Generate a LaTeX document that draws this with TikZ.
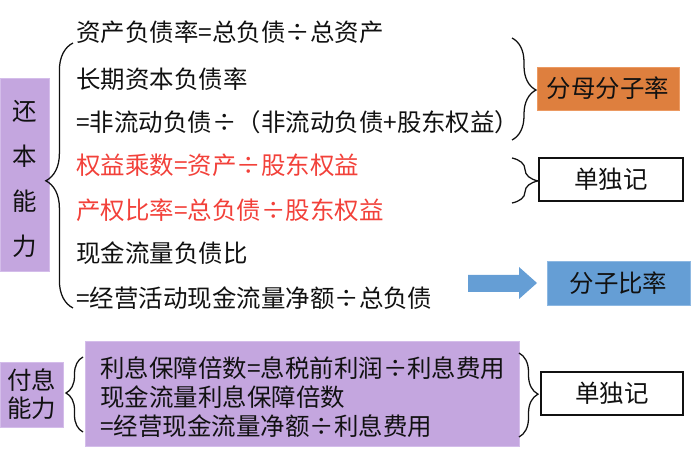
\documentclass[tikz,border=0pt]{standalone}
\usepackage{fontspec}
\setmainfont{Noto Sans CJK SC}
\usetikzlibrary{positioning,decorations.pathreplacing}
\definecolor{hInk}{HTML}{111111}
\definecolor{hRed}{HTML}{F2413A}
\definecolor{hPurple}{HTML}{C4A6DF}
\definecolor{hPurpleLine}{HTML}{D4BDEA}
\definecolor{hOrange}{HTML}{DE7F3E}
\definecolor{hOrangeLine}{HTML}{EC9A62}
\definecolor{hBlue}{HTML}{659ED5}
\definecolor{hBlueLine}{HTML}{8DB8E2}

\begin{document}
\begin{tikzpicture}[x=0.025cm, y=-0.025cm,
  txt/.style={anchor=west, inner sep=0pt, text=hInk, font=\fontsize{17.4pt}{20pt}\selectfont},
  redtxt/.style={txt, text=hRed},
  bx/.style={inner sep=0pt, text=hInk, font=\fontsize{17.4pt}{20pt}\selectfont},
  purplebox/.style={bx, fill=hPurple, draw=hPurpleLine, line width=0.6pt},
  whitebox/.style={bx, fill=white, draw=hInk, line width=0.8pt},
  brc/.style args={#1/#2}{decorate, decoration={brace, amplitude=#1, aspect=#2}, draw=hInk, line width=0.9pt}
]
  \useasboundingbox (0,0) rectangle (692,452);

  % 还本能力
  \node[purplebox, minimum width=1.225cm, minimum height=4.825cm] (hbnl) at (24.5,174.5) {};
  \node[bx, align=center, font=\fontsize{17.4pt}{32pt}\selectfont] (hbnlt) at (24.5,179) {还\\本\\能\\力};
  \draw[brc=0.68cm/0.48] (73,308) -- (73,43);

  \node[txt] (l1) at (76,32) {资产负债率=总负债÷总资产};
  \node[txt] (l2) at (76,79) {长期资本负债率};
  \node[txt] (l3) at (76,122) {=非流动负债÷（非流动负债+股东权益）};
  \node[redtxt] (l4) at (76,165) {权益乘数=资产÷股东权益};
  \node[redtxt] (l5) at (76,210) {产权比率=总负债÷股东权益};
  \node[txt] (l6) at (76,253) {现金流量负债比};
  \node[txt] (l7) at (76,298) {=经营活动现金流量净额÷总负债};

  \draw[brc=0.6cm/0.51] (512,38) -- (512,140);
  \node[bx, fill=hOrange, draw=hOrangeLine, line width=0.6pt, minimum width=3.55cm, minimum height=1.075cm] (fmfz) at (608,88.5) {分母分子率};

  \draw[brc=0.65cm/0.51] (512,158) -- (512,203);
  \node[whitebox, minimum width=3.6cm, minimum height=1.075cm] (ddj1) at (611,179.5) {单独记};

  \fill[hBlue] (468,275) -- (519,275) -- (519,267) -- (537,283) -- (519,299) -- (519,292) -- (468,292) -- cycle;
  \node[bx, fill=hBlue, draw=hBlueLine, line width=0.6pt, minimum width=3.575cm, minimum height=1.1cm] (fzbl) at (618.5,283) {分子比率};

  % 付息能力
  \node[purplebox, align=center, minimum width=1.575cm, minimum height=1.625cm] (fxnl) at (31.5,394.5) {付息\\能力};
  \draw[brc=0.425cm/0.52] (83,432) -- (83,357);
  \node[purplebox, minimum width=10.85cm, minimum height=2.625cm] (lxbox) at (302,393.5) {};
  \node[txt, align=left, font=\fontsize{17.4pt}{20.6pt}\selectfont] (lx) at (100,397) {利息保障倍数=息税前利润÷利息费用\\现金流量利息保障倍数\\=经营现金流量净额÷利息费用};
  \draw[brc=0.475cm/0.49] (519,353) -- (519,437);
  \node[whitebox, minimum width=3.55cm, minimum height=1.075cm] (ddj2) at (612,393.5) {单独记};
\end{tikzpicture}
\end{document}
